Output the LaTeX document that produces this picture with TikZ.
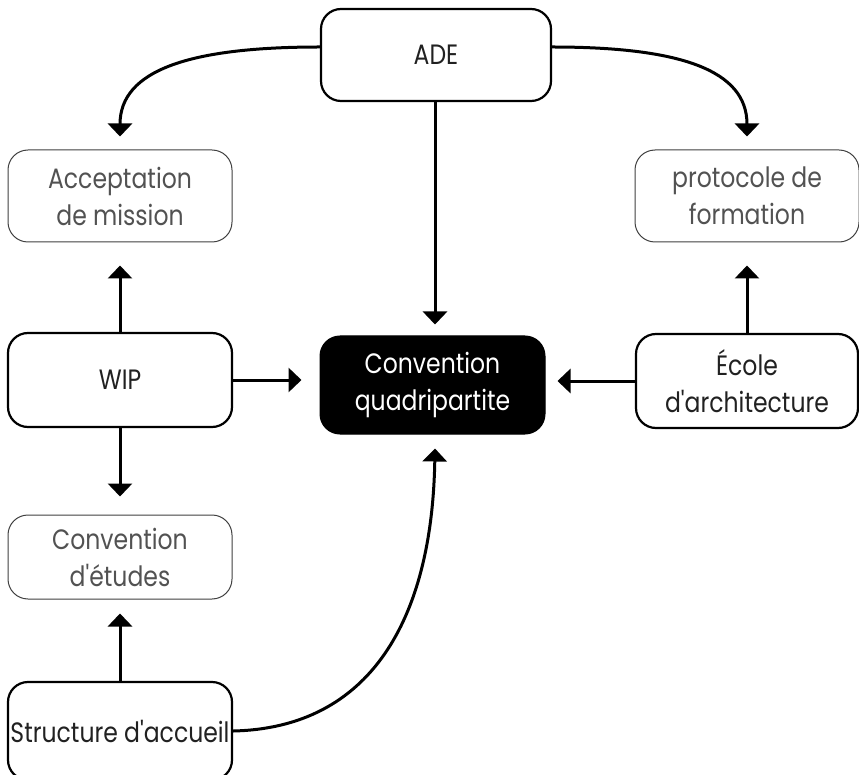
\documentclass[tikz,border=0pt]{standalone}
\usepackage{fontspec}
\defaultfontfeatures{}
\setmainfont{Poppins}[FakeStretch=0.84,Ligatures=TeXOff]
\usetikzlibrary{arrows.meta}
\begin{document}
\begin{tikzpicture}[x=1pt,y=-1pt,
  base/.style={rounded corners=20pt, align=center, inner sep=0pt, font=\fontsize{28}{37}\selectfont},
  strong/.style={base, draw=black, line width=2.2pt, fill=white, text=black!87},
  light/.style={base, draw=black!75, line width=1pt, fill=white, text=black!68},
  dark/.style={base, draw=black, fill=black, text=white, line width=1pt},
  arr/.style={line width=3pt, -{Triangle[width=24pt,length=13pt]}}
]
\useasboundingbox (0,0) rectangle (859,775);
\node[strong, minimum width=230pt, minimum height=92pt] (ade) at (436,55) {ADE};
\node[light, minimum width=224pt, minimum height=92pt] (acc) at (120,196) {Acceptation\\de mission};
\node[light, minimum width=224pt, minimum height=92pt] (proto) at (747,196) {protocole de\\formation};
\node[strong, minimum width=224pt, minimum height=94pt] (wip) at (120,380) {WIP};
\node[dark, minimum width=225pt, minimum height=98pt] (conv) at (432.5,385) {Convention\\quadripartite};
\node[strong, minimum width=222pt, minimum height=94pt] (ecole) at (747,381) {École\\d\symbol{39}architecture};
\node[light, minimum width=224pt, minimum height=84pt] (etud) at (120,557) {Convention\\d\symbol{39}études};
\node[strong, minimum width=224pt, minimum height=98pt] (struct) at (120,731) {Structure d\symbol{39}accueil};

\draw[arr] (ade.west |- 0,47) .. controls (190,47) and (120,70) .. ([yshift=13pt]acc.north);
\draw[arr] (ade.east |- 0,47) .. controls (680,47) and (747,70) .. ([yshift=13pt]proto.north);
\draw[arr, shorten >=11pt] (ade.south -| 435,0) -- (conv.north -| 435,0);
\draw[arr, shorten >=23pt] (wip.north) -- (acc.south);
\draw[arr, shorten >=18pt] (wip.south) -- (etud.north);
\draw[arr, shorten >=18pt] (wip.east) -- (conv.west |- wip.east);
\draw[arr, shorten >=12pt] (ecole.west) -- (conv.east |- ecole.west);
\draw[arr, shorten >=23pt] (ecole.north) -- (proto.south);
\draw[arr, shorten >=14pt] (struct.north) -- (etud.south);
\draw[arr] (struct.east) .. controls (370,728) and (432,620) .. ([yshift=-14pt]conv.south -| 435,0);
\end{tikzpicture}
\end{document}
